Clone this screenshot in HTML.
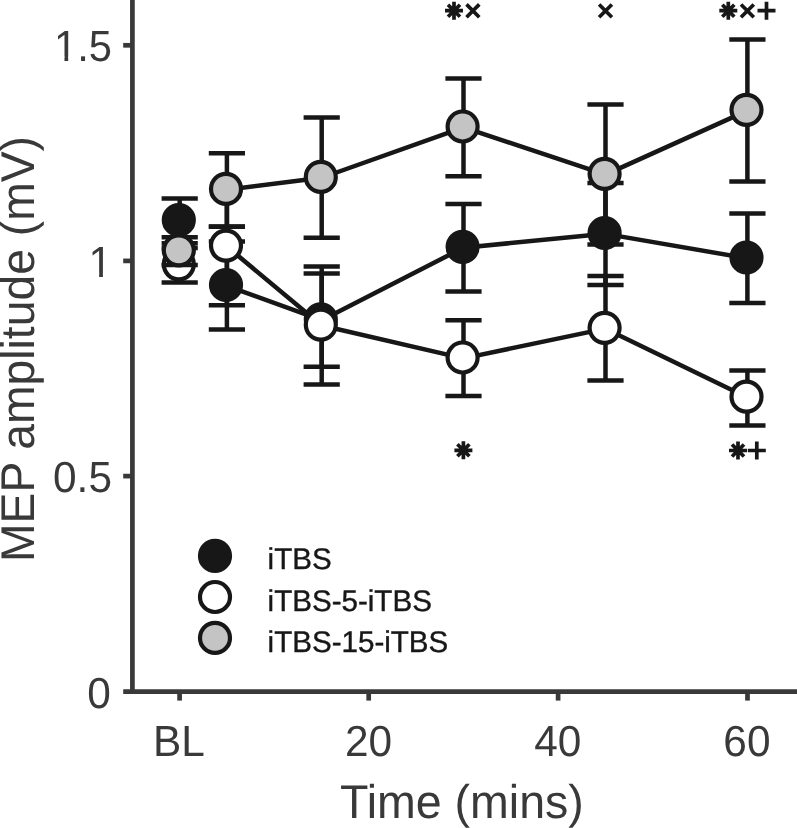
<!DOCTYPE html>
<html lang="en"><head><meta charset="utf-8"><title>MEP amplitude over time</title>
<style>html,body{margin:0;padding:0;background:#fff}svg{display:block}text{font-family:"Liberation Sans",Arial,Helvetica,sans-serif;text-rendering:geometricPrecision}</style>
</head><body>
<svg width="797" height="828" viewBox="0 0 797 828">
<rect width="797" height="828" fill="#fff"/>
<g stroke="#393939" stroke-width="4.7" fill="none" stroke-linecap="butt">
<line x1="132.4" y1="0" x2="132.4" y2="693.95"/>
<line x1="123.2" y1="691.6" x2="797" y2="691.6"/>
<line x1="123.2" y1="45.3" x2="132.4" y2="45.3"/>
<line x1="123.2" y1="260.9" x2="132.4" y2="260.9"/>
<line x1="123.2" y1="476.1" x2="132.4" y2="476.1"/>
<line x1="179.6" y1="691.6" x2="179.6" y2="700.6"/>
<line x1="368.7" y1="691.6" x2="368.7" y2="700.6"/>
<line x1="558.1" y1="691.6" x2="558.1" y2="700.6"/>
<line x1="747.5" y1="691.6" x2="747.5" y2="700.6"/>
</g>
<g fill="#393939" font-size="43.5px">
<text transform="translate(112.0,61.4) scale(0.96,1)" text-anchor="end">1.5</text>
<text transform="translate(112.0,277.0) scale(0.975,1)" text-anchor="end">1</text>
<text transform="translate(112.0,492.2) scale(0.975,1)" text-anchor="end">0.5</text>
<text transform="translate(110.8,707.8) scale(0.975,1)" text-anchor="end">0</text>
<text transform="translate(178.9,756.0) scale(0.975,1)" text-anchor="middle">BL</text>
<text transform="translate(368.5,756.0) scale(0.975,1)" text-anchor="middle">20</text>
<text transform="translate(557.8,756.0) scale(0.975,1)" text-anchor="middle">40</text>
<text transform="translate(746.9,756.0) scale(0.975,1)" text-anchor="middle">60</text>
</g>
<g fill="#ffffff"><rect x="90" y="272.5" width="9.15" height="5.5"/><rect x="102.9" y="272.5" width="8.1" height="5.5"/><rect x="56" y="56.5" width="8.45" height="5.5"/><rect x="68.2" y="56.5" width="8.8" height="5.5"/></g>
<g fill="#393939" font-size="47.3px">
<text transform="translate(461.9,817.8) scale(0.984,1)" text-anchor="middle">Time (mins)</text>
<text transform="translate(34.35,349.0) rotate(-90) scale(0.978,1)" text-anchor="middle">MEP amplitude (mV)</text>
</g>
<g stroke="#171717" fill="none">
<polyline points="226.9,285.85 321.7,320.15 463.5,247.65 605.5,233.85 747.4,258.35" stroke-width="4.5" stroke-linejoin="round"/>
<line x1="179.7" y1="198.6" x2="179.7" y2="243.2" stroke-width="4.5"/>
<line x1="161.6" y1="198.6" x2="197.8" y2="198.6" stroke-width="4.5"/>
<line x1="161.6" y1="243.2" x2="197.8" y2="243.2" stroke-width="4.5"/>
<line x1="226.9" y1="241.4" x2="226.9" y2="329.6" stroke-width="4.5"/>
<line x1="208.8" y1="241.4" x2="245.0" y2="241.4" stroke-width="4.5"/>
<line x1="208.8" y1="329.6" x2="245.0" y2="329.6" stroke-width="4.5"/>
<line x1="321.7" y1="273.6" x2="321.7" y2="366.7" stroke-width="4.5"/>
<line x1="303.6" y1="273.6" x2="339.8" y2="273.6" stroke-width="4.5"/>
<line x1="303.6" y1="366.7" x2="339.8" y2="366.7" stroke-width="4.5"/>
<line x1="463.5" y1="204.1" x2="463.5" y2="291.4" stroke-width="4.5"/>
<line x1="445.4" y1="204.1" x2="481.6" y2="204.1" stroke-width="4.5"/>
<line x1="445.4" y1="291.4" x2="481.6" y2="291.4" stroke-width="4.5"/>
<line x1="605.5" y1="183.0" x2="605.5" y2="285.1" stroke-width="4.5"/>
<line x1="587.4" y1="183.0" x2="623.6" y2="183.0" stroke-width="4.5"/>
<line x1="587.4" y1="285.1" x2="623.6" y2="285.1" stroke-width="4.5"/>
<line x1="747.4" y1="213.5" x2="747.4" y2="303.0" stroke-width="4.5"/>
<line x1="729.3" y1="213.5" x2="765.5" y2="213.5" stroke-width="4.5"/>
<line x1="729.3" y1="303.0" x2="765.5" y2="303.0" stroke-width="4.5"/>
<circle cx="178.8" cy="220.0" r="15.0" fill="#171717" stroke-width="4.2"/>
<circle cx="226.0" cy="285.0" r="15.0" fill="#171717" stroke-width="4.2"/>
<circle cx="320.8" cy="319.3" r="15.0" fill="#171717" stroke-width="4.2"/>
<circle cx="462.6" cy="246.8" r="15.0" fill="#171717" stroke-width="4.2"/>
<circle cx="604.6" cy="233.0" r="15.0" fill="#171717" stroke-width="4.2"/>
<circle cx="746.5" cy="257.5" r="15.0" fill="#171717" stroke-width="4.2"/>
</g>
<g stroke="#171717" fill="none">
<polyline points="226.9,246.45 321.7,325.55 463.5,358.35 605.5,328.65 747.4,397.55" stroke-width="4.5" stroke-linejoin="round"/>
<line x1="179.7" y1="248.1" x2="179.7" y2="282.4" stroke-width="4.5"/>
<line x1="161.6" y1="248.1" x2="197.8" y2="248.1" stroke-width="4.5"/>
<line x1="161.6" y1="282.4" x2="197.8" y2="282.4" stroke-width="4.5"/>
<line x1="226.9" y1="190" x2="226.9" y2="305.2" stroke-width="4.5"/>
<line x1="208.8" y1="226.6" x2="245.0" y2="226.6" stroke-width="4.5"/>
<line x1="208.8" y1="305.2" x2="245.0" y2="305.2" stroke-width="4.5"/>
<line x1="321.7" y1="266.6" x2="321.7" y2="384.4" stroke-width="4.5"/>
<line x1="303.6" y1="266.6" x2="339.8" y2="266.6" stroke-width="4.5"/>
<line x1="303.6" y1="384.4" x2="339.8" y2="384.4" stroke-width="4.5"/>
<line x1="463.5" y1="320.3" x2="463.5" y2="396.1" stroke-width="4.5"/>
<line x1="445.4" y1="320.3" x2="481.6" y2="320.3" stroke-width="4.5"/>
<line x1="445.4" y1="396.1" x2="481.6" y2="396.1" stroke-width="4.5"/>
<line x1="605.5" y1="276.1" x2="605.5" y2="380.6" stroke-width="4.5"/>
<line x1="587.4" y1="276.1" x2="623.6" y2="276.1" stroke-width="4.5"/>
<line x1="587.4" y1="380.6" x2="623.6" y2="380.6" stroke-width="4.5"/>
<line x1="747.4" y1="370.4" x2="747.4" y2="425.5" stroke-width="4.5"/>
<line x1="729.3" y1="370.4" x2="765.5" y2="370.4" stroke-width="4.5"/>
<line x1="729.3" y1="425.5" x2="765.5" y2="425.5" stroke-width="4.5"/>
<circle cx="178.8" cy="264.3" r="15.0" fill="#ffffff" stroke-width="4.2"/>
<circle cx="226.0" cy="245.6" r="15.0" fill="#ffffff" stroke-width="4.2"/>
<circle cx="320.8" cy="324.7" r="15.0" fill="#ffffff" stroke-width="4.2"/>
<circle cx="462.6" cy="357.5" r="15.0" fill="#ffffff" stroke-width="4.2"/>
<circle cx="604.6" cy="327.8" r="15.0" fill="#ffffff" stroke-width="4.2"/>
<circle cx="746.5" cy="396.7" r="15.0" fill="#ffffff" stroke-width="4.2"/>
</g>
<g stroke="#171717" fill="none">
<polyline points="226.9,189.75 321.7,177.75 463.5,127.35 605.5,174.65 747.4,110.65" stroke-width="4.5" stroke-linejoin="round"/>
<line x1="179.7" y1="237.2" x2="179.7" y2="264.9" stroke-width="4.5"/>
<line x1="161.6" y1="237.2" x2="197.8" y2="237.2" stroke-width="4.5"/>
<line x1="161.6" y1="264.9" x2="197.8" y2="264.9" stroke-width="4.5"/>
<line x1="226.9" y1="153.3" x2="226.9" y2="226.7" stroke-width="4.5"/>
<line x1="208.8" y1="153.3" x2="245.0" y2="153.3" stroke-width="4.5"/>
<line x1="208.8" y1="226.7" x2="245.0" y2="226.7" stroke-width="4.5"/>
<line x1="321.7" y1="117.6" x2="321.7" y2="237.7" stroke-width="4.5"/>
<line x1="303.6" y1="117.6" x2="339.8" y2="117.6" stroke-width="4.5"/>
<line x1="303.6" y1="237.7" x2="339.8" y2="237.7" stroke-width="4.5"/>
<line x1="463.5" y1="78.6" x2="463.5" y2="176.3" stroke-width="4.5"/>
<line x1="445.4" y1="78.6" x2="481.6" y2="78.6" stroke-width="4.5"/>
<line x1="445.4" y1="176.3" x2="481.6" y2="176.3" stroke-width="4.5"/>
<line x1="605.5" y1="104.5" x2="605.5" y2="244.6" stroke-width="4.5"/>
<line x1="587.4" y1="104.5" x2="623.6" y2="104.5" stroke-width="4.5"/>
<line x1="587.4" y1="244.6" x2="623.6" y2="244.6" stroke-width="4.5"/>
<line x1="747.4" y1="39.6" x2="747.4" y2="181.5" stroke-width="4.5"/>
<line x1="729.3" y1="39.6" x2="765.5" y2="39.6" stroke-width="4.5"/>
<line x1="729.3" y1="181.5" x2="765.5" y2="181.5" stroke-width="4.5"/>
<circle cx="178.8" cy="250.4" r="15.0" fill="#c4c4c4" stroke-width="4.2"/>
<circle cx="226.0" cy="188.9" r="15.0" fill="#c4c4c4" stroke-width="4.2"/>
<circle cx="320.8" cy="176.9" r="15.0" fill="#c4c4c4" stroke-width="4.2"/>
<circle cx="462.6" cy="126.5" r="15.0" fill="#c4c4c4" stroke-width="4.2"/>
<circle cx="604.6" cy="173.8" r="15.0" fill="#c4c4c4" stroke-width="4.2"/>
<circle cx="746.5" cy="109.8" r="15.0" fill="#c4c4c4" stroke-width="4.2"/>
</g>
<g stroke="#171717" stroke-width="3.7" fill="none" stroke-linecap="butt">
<path d="M445.0,10.7H463.0M454.0,1.7V19.7M448.0,4.7L460.0,16.7M448.0,16.7L460.0,4.7"/>
<path d="M466.5,4.4L479.3,17.2M466.5,17.2L479.3,4.4"/>
<path d="M599.1,4.5L611.9,17.3M599.1,17.3L611.9,4.5"/>
<path d="M719.3,10.7H737.3M728.3,1.7V19.7M722.3,4.7L734.3,16.7M722.3,16.7L734.3,4.7"/>
<path d="M741.0,4.5L753.8,17.3M741.0,17.3L753.8,4.5"/>
<path d="M757.5,10.7H775.5M766.5,1.7V19.7"/>
<path d="M454.4,450.3H472.4M463.4,441.3V459.3M457.4,444.3L469.4,456.3M457.4,456.3L469.4,444.3"/>
<path d="M729.0,450.5H747.0M738.0,441.5V459.5M732.0,444.5L744.0,456.5M732.0,456.5L744.0,444.5"/>
<path d="M747.8,450.5H765.8M756.8,441.5V459.5"/>
</g>
<g stroke="#171717" stroke-width="4.2">
<circle cx="215.0" cy="555.9" r="15.0" fill="#171717"/>
<circle cx="215.0" cy="597.0" r="15.0" fill="#ffffff"/>
<circle cx="215.0" cy="637.9" r="15.0" fill="#c4c4c4"/>
</g>
<g fill="#171717" stroke="#171717" stroke-width="0.4" font-size="29.9px">
<text transform="translate(267.6,569.2) scale(0.989,1)">iTBS</text>
<text transform="translate(267.6,610.5) scale(0.989,1)">iTBS-5-iTBS</text>
<text transform="translate(267.6,651.5) scale(0.989,1)">iTBS-15-iTBS</text>
</g>
</svg>
</body></html>
